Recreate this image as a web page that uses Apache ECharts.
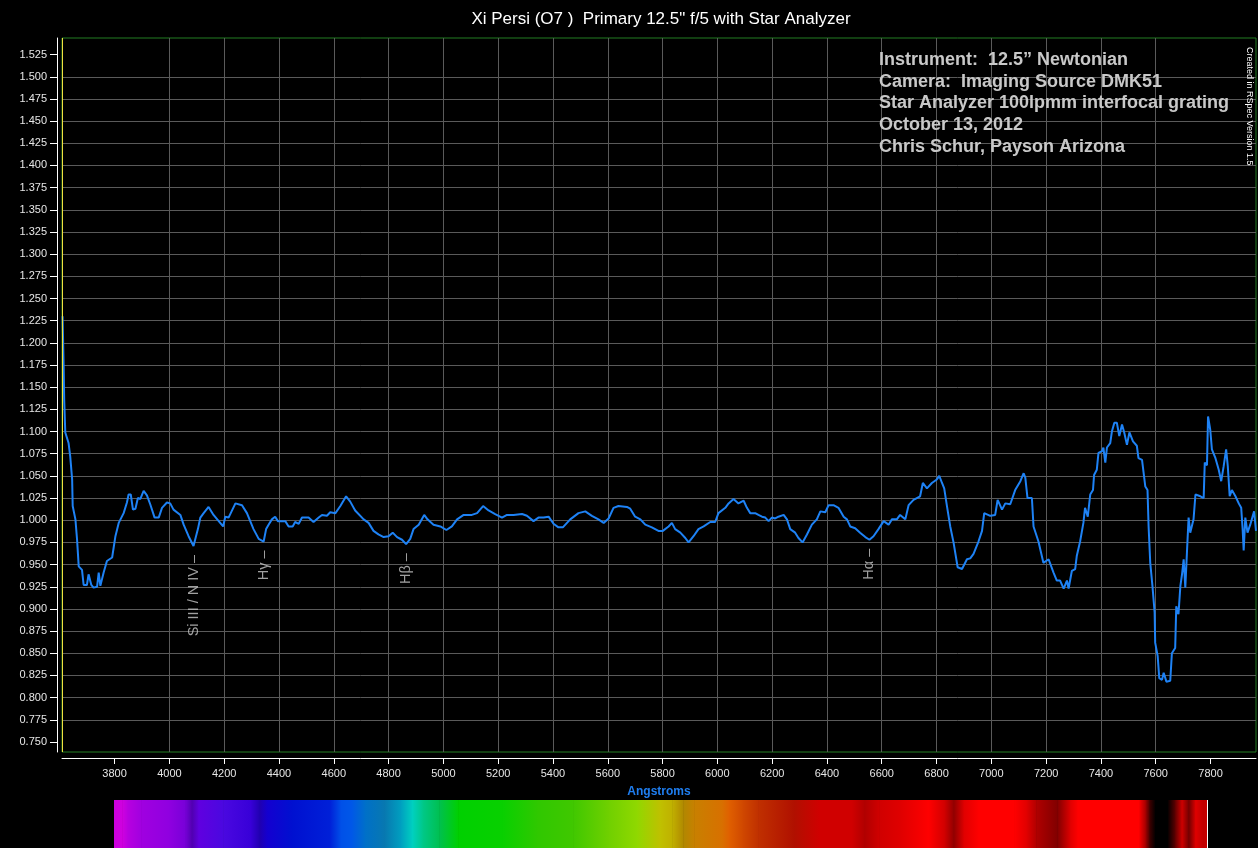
<!DOCTYPE html>
<html>
<head>
<meta charset="utf-8">
<title>Xi Persi spectrum</title>
<script src="https://cdn.jsdelivr.net/npm/echarts@6.0.0/dist/echarts.min.js"></script>
<style>
  html, body { margin: 0; padding: 0; background: #000; }
  #main { width: 1258px; height: 848px; }
</style>
</head>
<body>
<div id="main"></div>
<script>
// wavelengths (Angstrom) and relative flux
var wavelengths = [
  3610, 3612, 3614, 3616, 3620, 3632, 3638, 3645, 3647, 3657, 3663, 3669, 3681, 3687, 3699, 3705,
  3715, 3723, 3736, 3742, 3748, 3760, 3772, 3791, 3803, 3815, 3833, 3845, 3851, 3859, 3867, 3876,
  3885, 3894, 3906, 3918, 3930, 3946, 3961, 3973, 3991, 4003, 4015, 4040, 4052, 4070, 4088, 4104,
  4113, 4125, 4143, 4161, 4180, 4196, 4204, 4216, 4241, 4265, 4283, 4307, 4326, 4344, 4353, 4362,
  4374, 4386, 4396, 4423, 4435, 4450, 4459, 4472, 4484, 4508, 4526, 4545, 4557, 4575, 4587, 4606,
  4624, 4645, 4660, 4678, 4709, 4727, 4745, 4763, 4782, 4800, 4815, 4831, 4849, 4864, 4879, 4891,
  4910, 4930, 4942, 4964, 4989, 5011, 5031, 5050, 5074, 5104, 5123, 5145, 5165, 5189, 5214, 5232,
  5256, 5287, 5305, 5329, 5347, 5366, 5384, 5402, 5420, 5436, 5463, 5493, 5518, 5542, 5566, 5585,
  5603, 5621, 5639, 5670, 5682, 5700, 5719, 5737, 5761, 5785, 5801, 5822, 5834, 5846, 5865, 5883,
  5895, 5913, 5931, 5950, 5974, 5992, 6004, 6029, 6041, 6059, 6077, 6096, 6108, 6120, 6138, 6150,
  6163, 6175, 6187, 6199, 6211, 6223, 6242, 6254, 6266, 6284, 6296, 6311, 6327, 6345, 6363, 6376,
  6394, 6406, 6424, 6442, 6461, 6473, 6485, 6503, 6521, 6540, 6555, 6570, 6588, 6607, 6625, 6637,
  6655, 6667, 6686, 6698, 6716, 6740, 6750, 6765, 6783, 6801, 6810, 6820, 6828, 6838, 6850, 6862,
  6877, 6893, 6911, 6923, 6935, 6953, 6966, 6974, 6996, 7014, 7023, 7039, 7051, 7069, 7087, 7106,
  7118, 7124, 7132, 7148, 7154, 7172, 7190, 7209, 7227, 7239, 7251, 7264, 7276, 7282, 7294, 7306,
  7312, 7324, 7336, 7342, 7352, 7361, 7371, 7375, 7385, 7391, 7404, 7409, 7416, 7422, 7434, 7440,
  7449, 7458, 7467, 7477, 7485, 7495, 7504, 7517, 7531, 7537, 7550, 7562, 7570, 7574, 7580, 7588,
  7596, 7598, 7607, 7613, 7623, 7629, 7639, 7653, 7659, 7671, 7675, 7683, 7690, 7696, 7702, 7708,
  7714, 7720, 7726, 7738, 7745, 7763, 7775, 7779, 7787, 7791, 7799, 7805, 7818, 7830, 7839, 7848,
  7857, 7863, 7870, 7878, 7891, 7903, 7912, 7917, 7921, 7927, 7935, 7945, 7959, 7966
];
var flux = [
  1.230, 1.202, 1.174, 1.136, 1.099, 1.087, 1.072, 1.046, 1.016, 1.001, 0.978, 0.948, 0.944, 0.927, 0.927, 0.939,
  0.927, 0.924, 0.925, 0.941, 0.926, 0.941, 0.954, 0.958, 0.982, 0.997, 1.008, 1.020, 1.029, 1.029, 1.012, 1.013,
  1.025, 1.024, 1.033, 1.028, 1.018, 1.003, 1.003, 1.014, 1.020, 1.019, 1.012, 1.006, 0.995, 0.982, 0.971, 0.990,
  1.003, 1.008, 1.015, 1.006, 0.999, 0.993, 1.004, 1.003, 1.019, 1.017, 1.008, 0.990, 0.979, 0.976, 0.990, 0.995,
  1.001, 1.004, 0.999, 0.999, 0.993, 0.993, 0.998, 0.996, 1.003, 1.003, 0.998, 1.003, 1.006, 1.005, 1.009, 1.008,
  1.016, 1.027, 1.021, 1.011, 1.001, 0.997, 0.988, 0.984, 0.981, 0.982, 0.986, 0.981, 0.978, 0.973, 0.979, 0.990,
  0.995, 1.006, 1.001, 0.995, 0.993, 0.989, 0.993, 1.001, 1.006, 1.006, 1.008, 1.016, 1.011, 1.007, 1.003, 1.006,
  1.006, 1.007, 1.005, 0.999, 1.003, 1.003, 1.004, 0.996, 0.992, 0.992, 1.001, 1.008, 1.010, 1.005, 1.001, 0.997,
  1.002, 1.014, 1.016, 1.015, 1.013, 1.004, 1.001, 0.995, 0.992, 0.988, 0.988, 0.993, 0.997, 0.990, 0.986, 0.980,
  0.975, 0.982, 0.990, 0.993, 0.998, 0.998, 1.008, 1.014, 1.019, 1.024, 1.019, 1.022, 1.014, 1.008, 1.008, 1.006,
  1.004, 1.003, 0.999, 1.003, 1.002, 1.004, 1.006, 1.001, 0.990, 0.986, 0.980, 0.975, 0.984, 0.995, 1.001, 1.010,
  1.009, 1.017, 1.017, 1.014, 1.004, 1.001, 0.993, 0.991, 0.986, 0.981, 0.978, 0.982, 0.990, 0.999, 0.995, 1.001,
  1.001, 1.006, 1.001, 1.017, 1.023, 1.027, 1.042, 1.036, 1.042, 1.046, 1.050, 1.042, 1.036, 1.016, 0.993, 0.975,
  0.947, 0.945, 0.956, 0.957, 0.962, 0.976, 0.988, 1.008, 1.005, 1.006, 1.023, 1.012, 1.019, 1.018, 1.034, 1.044,
  1.053, 1.048, 1.025, 1.025, 0.993, 0.976, 0.952, 0.956, 0.941, 0.932, 0.932, 0.923, 0.932, 0.923, 0.943, 0.945,
  0.960, 0.976, 0.997, 1.014, 1.004, 1.029, 1.034, 1.051, 1.057, 1.076, 1.078, 1.082, 1.065, 1.082, 1.087, 1.100,
  1.110, 1.110, 1.095, 1.108, 1.099, 1.085, 1.099, 1.089, 1.084, 1.070, 1.068, 1.038, 1.034, 0.993, 0.952, 0.926,
  0.896, 0.862, 0.847, 0.822, 0.820, 0.828, 0.818, 0.819, 0.850, 0.856, 0.903, 0.894, 0.926, 0.939, 0.956, 0.924,
  0.964, 1.003, 0.986, 1.001, 1.029, 1.027, 1.025, 1.065, 1.062, 1.117, 1.102, 1.080, 1.070, 1.057, 1.044, 1.061,
  1.080, 1.061, 1.027, 1.034, 1.027, 1.019, 1.014, 0.991, 0.966, 1.003, 0.986, 0.995, 1.010, 0.988
];

// identified lines
var lineWl = [4088, 4344, 4864, 6555];
var lineFlux = [0.971, 0.976, 0.973, 0.978];
var lineNames = ['Si III / N IV \u2013', 'H\u03b3 \u2013', 'H\u03b2 \u2013', 'H\u03b1 \u2013'];

// tick labels
var xTicks = [3800, 4000, 4200, 4400, 4600, 4800, 5000, 5200, 5400, 5600, 5800,
  6000, 6200, 6400, 6600, 6800, 7000, 7200, 7400, 7600, 7800];
var yTicks = [];
for (var k = 30; k <= 61; k++) yTicks.push(+(k * 0.025).toFixed(3));

var infoLines = [
  'Instrument:  12.5\u201d Newtonian',
  'Camera:  Imaging Source DMK51',
  'Star Analyzer 100lpmm interfocal grating',
  'October 13, 2012',
  'Chris Schur, Payson Arizona'
];

// synthetic spectrum strip under the axis
var bandWl = [3800, 3830, 3850, 3900, 4000, 4060, 4085, 4110, 4200, 4300, 4333, 4360, 4450, 4590, 4630,
  4670, 4720, 4790, 4850, 4892, 4930, 4990, 5060, 5220, 5350, 5480, 5610, 5713, 5800, 5843, 5883, 5923,
  6025, 6050, 6100, 6157, 6288, 6380, 6500, 6547, 6600, 6680, 6781, 6840, 6873, 6910, 6964, 7095, 7140,
  7175, 7252, 7300, 7327, 7550, 7575, 7590, 7610, 7655, 7683, 7708, 7733, 7758, 7785, 7800];
var bandColor = ['#cc00dd', '#d000e0', '#b800e0', '#a000e0', '#9000e0', '#7800d8', '#5000b0', '#6000e0',
  '#4a08e0', '#3800d8', '#2000b0', '#1400d0', '#0010d0', '#0020d8', '#0050e8', '#0058e8', '#0070c8',
  '#0878b0', '#00a0c0', '#00d0c0', '#00c888', '#00c050', '#00d000', '#08d000', '#30c800', '#40c800',
  '#70d000', '#90d800', '#c0c000', '#c0b000', '#b08800', '#c88000', '#d87000', '#e06000', '#d04800',
  '#c03000', '#b01000', '#d00000', '#d00000', '#b00000', '#d00000', '#e00000', '#ff0000', '#d00000',
  '#900000', '#e00000', '#ff0000', '#ff0000', '#e00000', '#b00000', '#800000', '#e00000', '#ff0000',
  '#ff0000', '#a00000', '#400000', '#000000', '#000000', '#600000', '#d00000', '#700000', '#e00000',
  '#c00000', '#c80000'];

var font = 'Liberation Sans, Arial, sans-serif';

var spectrum = [];
for (var i = 0; i < wavelengths.length; i++) spectrum.push([wavelengths[i], flux[i]]);
var marks = [];
for (var j = 0; j < lineWl.length; j++) marks.push([lineWl[j], lineFlux[j], lineNames[j]]);
var bandData = [];
for (var b = 0; b < bandWl.length; b++) bandData.push([bandWl[b], b]);

var chart = echarts.init(document.getElementById('main'));
var option = {
  backgroundColor: '#000',
  animation: false,
  title: {
    text: 'Xi Persi (O7 )  Primary 12.5" f/5 with Star Analyzer',
    left: 656,
    top: 6,
    textAlign: 'center',
    textStyle: { color: '#fff', fontSize: 17, fontWeight: 'normal', fontFamily: font }
  },
  graphic: [
    {
      type: 'text', left: 879, top: 49, z: 10,
      style: {
        text: infoLines.join('\n'), fill: '#c8c8c8',
        font: 'bold 18px ' + font, lineHeight: 21.7
      }
    },
    {
      type: 'text', x: 1249, y: 47, rotation: -Math.PI / 2, z: 10,
      style: {
        text: 'Created in RSpec Version 1.5', fill: '#fff',
        font: '9px ' + font, textAlign: 'left', textVerticalAlign: 'middle', x: 0, y: 0
      }
    }
  ],
  grid: [
    { left: 62, top: 38, right: 2, bottom: 96, show: true, borderColor: '#237d23', borderWidth: 1, backgroundColor: '#000' },
    { left: 114, right: 51, top: 800, bottom: 0 }
  ],
  xAxis: [
    {
      type: 'value', min: 3608, max: 7966, minInterval: 200, maxInterval: 200, offset: 6,
      axisLine: { lineStyle: { color: '#fff', width: 1 } },
      axisTick: { length: 6, lineStyle: { color: '#fff' }, customValues: xTicks },
      axisLabel: {
        color: '#e6e6e6', fontSize: 11, margin: 10, fontFamily: font, customValues: xTicks,
        formatter: function (v) { return String(v); }
      },
      splitLine: { show: true, showMinLine: false, showMaxLine: false, lineStyle: { color: '#5a5a5a', width: 1 } },
      name: 'Angstroms', nameLocation: 'middle', nameGap: 28,
      nameTextStyle: { color: '#1f7ef0', fontWeight: 'bold', fontSize: 12, fontFamily: font }
    },
    { gridIndex: 1, type: 'value', min: 3800, max: 7800, show: false }
  ],
  yAxis: [
    {
      type: 'value', min: 0.7387, max: 1.5437, minInterval: 0.025, maxInterval: 0.025, offset: 5,
      axisLine: { show: true, lineStyle: { color: '#fff', width: 1 } },
      axisTick: { show: true, length: 7, lineStyle: { color: '#fff' }, customValues: yTicks },
      axisLabel: {
        color: '#e6e6e6', fontSize: 11, margin: 10, fontFamily: font, customValues: yTicks,
        formatter: function (v) { return v.toFixed(3); }
      },
      splitLine: { show: true, showMinLine: false, showMaxLine: false, lineStyle: { color: '#5a5a5a', width: 1 } }
    },
    { gridIndex: 1, type: 'value', min: 0, max: 1, show: false }
  ],
  series: [
    {
      name: 'Xi Persi', type: 'line', data: spectrum, showSymbol: false, symbol: 'none',
      lineStyle: { color: '#1e82f5', width: 2 }, z: 3,
      markLine: {
        silent: true, symbol: 'none', animation: false,
        label: { show: false },
        lineStyle: { color: '#f0e040', type: 'solid', width: 1 },
        data: [{ xAxis: 3608 }]
      }
    },
    {
      name: 'lines', type: 'scatter', data: marks, symbolSize: 0, z: 4,
      label: {
        show: true, position: 'bottom', distance: 9, rotate: 90,
        align: 'right', verticalAlign: 'middle',
        color: '#c8c8c8', fontSize: 14.5, fontFamily: font,
        formatter: function (p) { return p.data[2]; }
      }
    },
    {
      name: 'strip', type: 'custom', xAxisIndex: 1, yAxisIndex: 1, data: bandData, silent: true,
      renderItem: function (params, api) {
        var n = params.dataIndex;
        var p0 = api.coord([bandWl[n], 1]);
        if (n >= bandWl.length - 1) {
          var pb = api.coord([bandWl[n], 0]);
          return { type: 'rect', shape: { x: p0[0], y: p0[1], width: 1, height: pb[1] - p0[1] }, style: { fill: '#ffffff' } };
        }
        var p1 = api.coord([bandWl[n + 1], 0]);
        return {
          type: 'rect',
          shape: { x: p0[0], y: p0[1], width: p1[0] - p0[0] + 0.6, height: p1[1] - p0[1] },
          style: {
            fill: new echarts.graphic.LinearGradient(0, 0, 1, 0, [
              { offset: 0, color: bandColor[n] },
              { offset: 1, color: bandColor[n + 1] }
            ])
          }
        };
      }
    }
  ]
};
chart.setOption(option);
</script>
</body>
</html>
